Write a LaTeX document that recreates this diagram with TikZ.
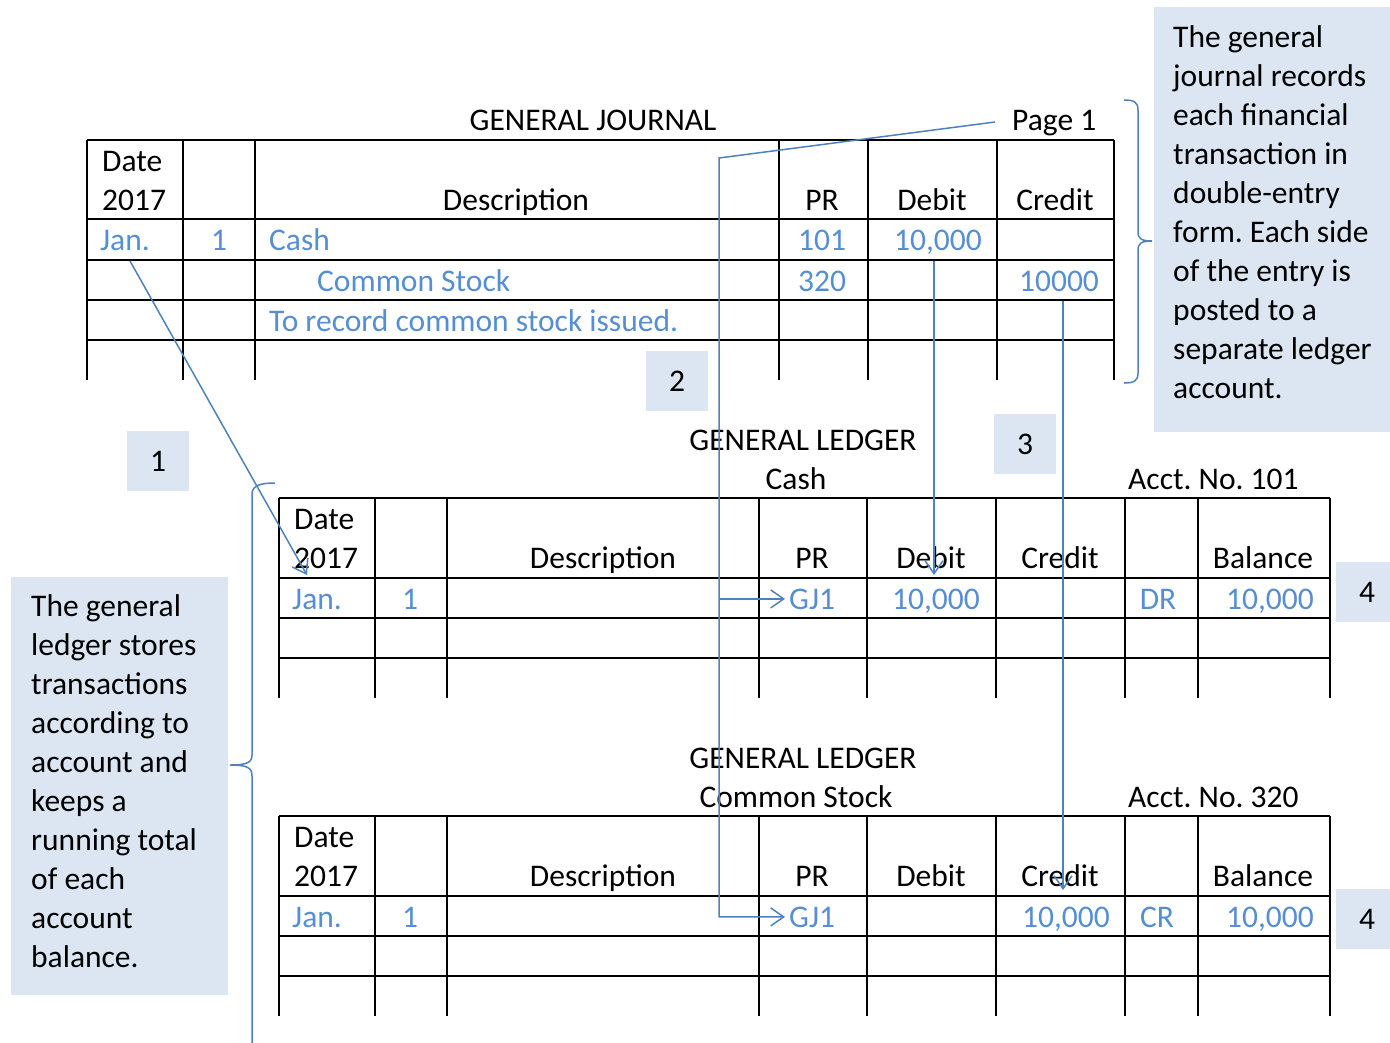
\documentclass[tikz,border=0pt]{standalone}
\usepackage{fontspec}
\setmainfont{Carlito}
\usetikzlibrary{arrows.meta}
\definecolor{linkblue}{HTML}{4F81BD}
\definecolor{entryblue}{HTML}{558ED5}
\definecolor{notefill}{HTML}{DCE6F2}
\frenchspacing

\begin{document}
\begin{tikzpicture}[x=1pt, y=-1pt,
  font=\fontsize{31.5}{39}\selectfont,
  every node/.style={inner sep=0pt},
  rule/.style={line width=2pt},
  link/.style={linkblue, line width=1.5pt},
  tip/.style={-{Straight Barb[length=13pt, width=18pt]}},
  entry/.style={text=entryblue},
  numbox/.style={fill=notefill, minimum width=62pt, minimum height=60pt},
  notebox/.style={fill=notefill, anchor=north west}]
\useasboundingbox (0,0) rectangle (1390,1042);

% notes and step numbers
\node[notebox, minimum width=236pt, minimum height=425pt] (jnote) at (1154,7) {};
\node[notebox, minimum width=217pt, minimum height=418pt] (lnote) at (11,577) {};
\node[numbox] (n1) at (158,461) {1};
\node[numbox] (n2) at (677,381) {2};
\node[numbox] (n3) at (1025,444) {3};
\node[numbox] (n4a) at (1367,592) {4};
\node[numbox] (n4b) at (1367,919) {4};

\foreach \line [count=\i] in {The general, journal records, each financial, transaction in,
  double-entry, form. Each side, of the entry is, posted to a, separate ledger, account.}
  \node[anchor=base west] (jn\i) at (1173,{47+39*(\i-1)}) {\line};
\foreach \line [count=\i] in {The general, ledger stores, transactions, according to,
  account and, keeps a, running total, of each, account, balance.}
  \node[anchor=base west] (ln\i) at (31,{616+39*(\i-1)}) {\line};

% general journal
\foreach \x in {87,183,255,779,868,997,1114} \draw[rule] (\x,140) -- (\x,380);
\foreach \y in {140,219,260,300,340} \draw[rule] (87,\y) -- (1114,\y);

\node[anchor=base] (jtitle) at (593,130) {GENERAL JOURNAL};
\node[anchor=base west] (jpage) at (1012,130) {Page 1};
\node[anchor=base west] (jhdate) at (102,171) {Date};
\node[anchor=base west] (jhyear) at (102,210) {2017};
\node[anchor=base] (jhdesc) at (516,210) {Description};
\node[anchor=base] (jhpr) at (822,210) {PR};
\node[anchor=base] (jhdebit) at (932,210) {Debit};
\node[anchor=base] (jhcredit) at (1055,210) {Credit};

\node[entry, anchor=base west] (jjan) at (100,250) {Jan.};
\node[entry, anchor=base] (jday) at (219,250) {1};
\node[entry, anchor=base west] (jcash) at (269,250) {Cash};
\node[entry, anchor=base] (jpr1) at (822,250) {101};
\node[entry, anchor=base] (jdebit) at (938,250) {10,000};
\node[entry, anchor=base west] (jstock) at (317,291) {Common Stock};
\node[entry, anchor=base] (jpr2) at (822,291) {320};
\node[entry, anchor=base] (jcredit) at (1059,291) {10000};
\node[entry, anchor=base west] (jmemo) at (269,331) {To record common stock issued.};

% general ledger accounts
\foreach \t/\acct/\no in {0/Cash/101, 318/Common Stock/320} {
  \foreach \x in {279,375,447,759,867,996,1125,1198,1330} \draw[rule] (\x,{498+\t}) -- (\x,{698+\t});
  \foreach \y in {498,578,618,658} \draw[rule] (279,{\y+\t}) -- (1330,{\y+\t});
  \node[anchor=base] (ltitle\t) at (803,{450+\t}) {GENERAL LEDGER};
  \node[anchor=base] (lacct\t) at (796,{489+\t}) {\acct};
  \node[anchor=base west] (lno\t) at (1128,{489+\t}) {Acct. No. \no};
  \node[anchor=base west] (lhdate\t) at (294,{529+\t}) {Date};
  \node[anchor=base west] (lhyear\t) at (294,{568+\t}) {2017};
  \node[anchor=base] (lhdesc\t) at (603,{568+\t}) {Description};
  \node[anchor=base] (lhpr\t) at (812,{568+\t}) {PR};
  \node[anchor=base] (lhdebit\t) at (931,{568+\t}) {Debit};
  \node[anchor=base] (lhcredit\t) at (1060,{568+\t}) {Credit};
  \node[anchor=base] (lhbal\t) at (1263,{568+\t}) {Balance};
  \node[entry, anchor=base west] (ljan\t) at (292,{609+\t}) {Jan.};
  \node[entry, anchor=base] (lday\t) at (410,{609+\t}) {1};
  \node[entry, anchor=base west] (lgj\t) at (789,{609+\t}) {GJ1};
  \node[entry, anchor=base] (lbal\t) at (1270,{609+\t}) {10,000};
}
\node[entry, anchor=base] (cdebit) at (936,609) {10,000};
\node[entry, anchor=base] (cside) at (1158,609) {DR};
\node[entry, anchor=base] (scredit) at (1066,927) {10,000};
\node[entry, anchor=base] (sside) at (1157,927) {CR};

% braces
\draw[link] (1124,100) .. controls (1134,100) and (1138,102) .. (1138,110) -- (1138,232)
  .. controls (1138,239) and (1142,241) .. (1152,241)
  .. controls (1142,241) and (1138,243) .. (1138,250) -- (1138,373)
  .. controls (1138,381) and (1134,383) .. (1124,383);
\draw[link] (275,483) .. controls (262,483) and (252,485) .. (252,494) -- (252,755)
  .. controls (252,762) and (248,765) .. (230,765)
  .. controls (248,765) and (252,768) .. (252,776) -- (252,1050);

% posting links
\coordinate (jjanfoot) at (130,261);
\coordinate (cashdate) at (307,575);
\coordinate (pagetail) at (995,122);
\coordinate (trunk) at (719,158);
\coordinate (debitfoot) at (934,261);
\coordinate (cashdebit) at (934,575);
\coordinate (creditfoot) at (1063,301);
\coordinate (stockcredit) at (1063,890);

\draw[link, tip] (jjanfoot) -- (cashdate);
\draw[link, tip] (pagetail) -- (trunk) |- ([xshift=-4pt]lgj318.west);
\draw[link, tip] (trunk |- lgj0.west) -- ([xshift=-4pt]lgj0.west);
\draw[link, tip] (debitfoot) -- (cashdebit);
\draw[link, tip] (creditfoot) -- (stockcredit);

\end{tikzpicture}
\end{document}
